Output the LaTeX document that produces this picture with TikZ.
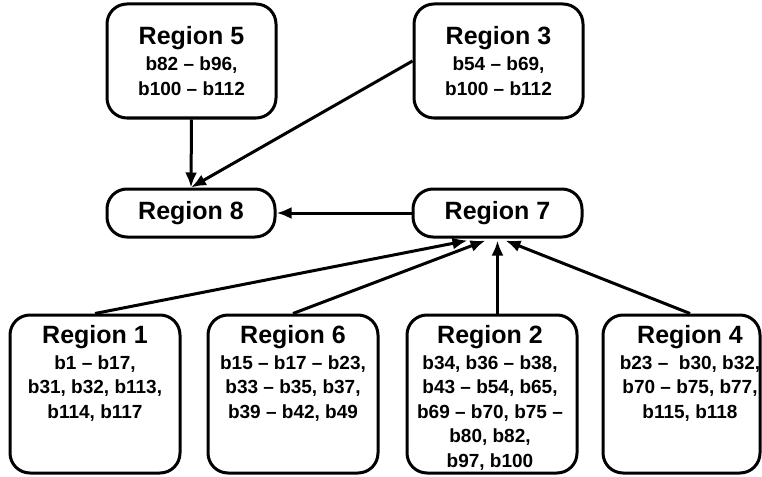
\documentclass[tikz,border=0pt]{standalone}
\usepackage{fontspec}
\setmainfont{Liberation Sans}
\usetikzlibrary{arrows.meta,positioning}

\begin{document}
\begin{tikzpicture}[x=1pt, y=-1pt, >={Latex[length=15pt,width=12pt]},
  font=\bfseries\fontsize{19}{24.5}\selectfont,
  region/.style={draw, line width=3pt, rounded corners=20pt, inner sep=0pt, align=center},
  link/.style={->, line width=3pt}]
\def\ttl#1{{\fontsize{25}{27}\selectfont #1}}
\useasboundingbox (0,0) rectangle (762,476);
% top row
\node[region, minimum width=169pt, minimum height=114pt] (r5) at (191.5,61) {\ttl{Region 5}\\[2pt] b82 – b96,\\ b100 – b112};
\node[region, minimum width=169pt, minimum height=114pt] (r3) at (498.5,61) {\ttl{Region 3}\\[2pt] b54 – b69,\\ b100 – b112};
% middle row
\node[region, minimum width=168pt, minimum height=48pt] (r8) at (191,213) {\ttl{Region 8}};
\node[region, minimum width=169pt, minimum height=48pt] (r7) at (497.5,213) {\ttl{Region 7}};
% bottom row
\foreach \n/\cx/\w/\dx/\txt in {
    1/95/170/0/{b1 – b17,\\ b31, b32, b113,\\ b114, b117},
    6/293/170/0/{b15 – b17 – b23,\\ b33 – b35, b37,\\ b39 – b42, b49},
    2/492/170/-2/{b34, b36 – b38,\\ b43 – b54, b65,\\ b69 – b70, b75 –\\ b80, b82,\\ b97, b100},
    4/681.5/157/8.5/{b23 –~ b30, b32,\\ b70 – b75, b77,\\ b115, b118}}{
  \node[region, minimum width=\w pt, minimum height=158pt] (r\n) at (\cx,394) {};
  \node[anchor=north, align=center, inner sep=2pt] (r\n t) at ([xshift=\dx pt, yshift=-10pt]r\n.north) {\ttl{Region \n}\\[1pt] \txt};
}
% connectors
\draw[link] (r5.south) -- (r8.north);
\draw[link] (r3.west) -- (r8.north);
\draw[link] (r7.west) -- (r8.east);
\draw[link] (r1.north) -- ([xshift=-30pt, yshift=-2pt]r7.south);
\draw[link] (r6.north) -- ([xshift=-12pt, yshift=-2pt]r7.south);
\draw[link] (r7.south |- r2.north) -- ([yshift=-2pt]r7.south);
\draw[link] ([xshift=8.5pt]r4.north) -- ([xshift=8pt, yshift=-2pt]r7.south);
\end{tikzpicture}
\end{document}
